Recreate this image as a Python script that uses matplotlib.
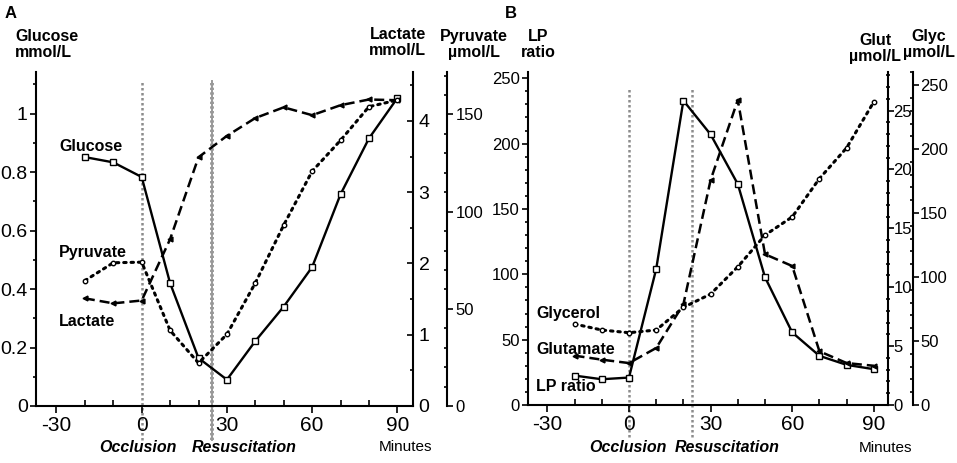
import matplotlib
matplotlib.use("Agg")
import matplotlib.pyplot as plt
from matplotlib.ticker import MultipleLocator, FixedLocator

plt.rcParams['font.family'] = ['Liberation Sans', 'DejaVu Sans']
plt.rcParams['axes.unicode_minus'] = False

# DATA
minutes = [-20, -10, 0, 10, 20, 30, 40, 50, 60, 70, 80, 90]

# panel A
glucose = [0.851, 0.833, 0.783, 0.42, 0.164, 0.09, 0.222, 0.34, 0.475, 0.724, 0.915, 1.053]
lactate = [1.51, 1.44, 1.48, 2.34, 3.49, 3.79, 4.04, 4.19, 4.08, 4.22, 4.30, 4.29]
pyruvate = [64.5, 73.7, 74.0, 38.9, 22.1, 36.9, 63.3, 93.1, 120.8, 136.7, 154, 157.4]

# panel B
lp_ratio = [22.5, 19.7, 21, 104, 232.9, 207, 169, 97.7, 55.5, 37.6, 30.7, 27.4]
glutamate = [4.19, 3.85, 3.56, 4.84, 8.55, 19.1, 25.9, 12.8, 11.8, 4.56, 3.56, 3.33]
glycerol = [63.3, 58.6, 56.5, 58.6, 76.3, 86.7, 108, 132.8, 147, 177, 201, 237]

occlusion_time = 0
resusc_time_a = 24.6
resusc_time_b = 23.3

x_ticks = [-30, 0, 30, 60, 90]

W, H = 957, 463
LW = 1.5
DASH = (0, (4, 2))
DOT = (0, (0.8, 1.6))


def px(x, y):
    return x / W, 1 - y / H


def style_main(ax, xlim, ylim, ymajor, yminor, fmt=None, lsize=14):
    ax.set_xlim(*xlim)
    ax.set_ylim(*ylim)
    for s in ["top", "right"]:
        ax.spines[s].set_visible(False)
    for s in ["left", "bottom"]:
        ax.spines[s].set_linewidth(1.5)
    ax.xaxis.set_major_locator(FixedLocator(x_ticks))
    ax.xaxis.set_minor_locator(MultipleLocator(10))
    ax.yaxis.set_major_locator(MultipleLocator(ymajor))
    ax.yaxis.set_minor_locator(MultipleLocator(yminor))
    ax.tick_params(axis="x", which="major", direction="out", length=5, width=1.2, labelsize=15, pad=2)
    ax.tick_params(axis="x", which="minor", direction="in", length=4, width=1.2)
    ax.tick_params(axis="y", which="major", direction="out", length=4, width=1.2, labelsize=lsize, pad=2)
    ax.tick_params(axis="y", which="minor", direction="out", length=2.5, width=1.2)
    if fmt is not None:
        ax.yaxis.set_major_formatter(fmt)


def style_twin(ax, ylim, ymajor, yminor, offset, major_dir, minor_dir, lsize, pad):
    ax.set_ylim(*ylim)
    for s in ["top", "left", "bottom"]:
        ax.spines[s].set_visible(False)
    ax.spines["right"].set_linewidth(1.5)
    if offset:
        # offset given in pixels, spine offset is in points
        ax.spines["right"].set_position(("outward", offset * 72 / 100))
    ax.yaxis.set_major_locator(MultipleLocator(ymajor))
    ax.yaxis.set_minor_locator(MultipleLocator(yminor))
    ax.tick_params(axis="y", which="major", direction=major_dir, length=4, width=1.2, labelsize=lsize, pad=pad)
    ax.tick_params(axis="y", which="minor", direction=minor_dir, length=2.5, width=1.2)


def vline(ax, x, ymin, ymax, wavy=False):
    if wavy:
        ax.axvline(x, ymin, ymax, color="#999999", lw=1.4, clip_on=False, zorder=1)
        ax.axvline(x, ymin, ymax, color="#999999", lw=2.8, ls=(0, (0.6, 0.6)), clip_on=False, zorder=1)
    else:
        ax.axvline(x, ymin, ymax, color="#8c8c8c", lw=1.8, ls=(0, (1, 1)), clip_on=False, zorder=1)


def fmt_a(v, pos):
    return "%g" % round(v, 2)


def main():
    fig = plt.figure(figsize=(W / 100, H / 100), dpi=100)

    # ---------- panel A ----------
    l, b = px(36, 406)
    axA = fig.add_axes([l, b, (413 - 36) / W, (406 - 71.7) / H])
    axA2 = axA.twinx()
    axA3 = axA.twinx()
    style_main(axA, (-37.2, 95.5), (0, 1.143), 0.2, 0.1, plt.FuncFormatter(fmt_a), lsize=14)
    style_twin(axA2, (0, 4.69), 1, 0.5, 0, "in", "in", 14, 4)
    style_twin(axA3, (0, 172), 50, 10, 34, "out", "in", 12, 2)

    vline(axA, occlusion_time, -0.102, 0.972)
    vline(axA, resusc_time_a, -0.102, 0.972, wavy=True)

    axA.plot(minutes, glucose, color="black", lw=LW + 0.2, marker="s", ms=4, mfc="white", mec="black", mew=1, zorder=3)
    axA2.plot(minutes, lactate, color="black", lw=LW + 0.3, ls=DASH, marker="<", ms=3.5, zorder=3)
    axA3.plot(minutes, pyruvate, color="black", lw=LW + 0.7, ls=DOT, dash_capstyle="round", marker="o", ms=3.2, mfc="white", mew=1, zorder=3)

    # ---------- panel B ----------
    l, b = px(528.3, 405)
    axB = fig.add_axes([l, b, (888 - 528.3) / W, (405 - 71.7) / H])
    axB2 = axB.twinx()
    axB3 = axB.twinx()
    style_main(axB, (-37, 95.2), (0, 255), 50, 10, lsize=12)
    style_twin(axB2, (0, 28.3), 5, 1, 0, "out", "inout", 12, 0)
    style_twin(axB3, (0, 260.5), 50, 10, 25, "out", "in", 12, 1)

    vline(axB, occlusion_time, -0.096, 0.948)
    vline(axB, resusc_time_b, -0.096, 0.948)

    axB.plot(minutes, lp_ratio, color="black", lw=LW + 0.2, marker="s", ms=4, mfc="white", mec="black", mew=1, zorder=3)
    axB2.plot(minutes, glutamate, color="black", lw=LW + 0.3, ls=DASH, marker="<", ms=3.5, zorder=3)
    axB3.plot(minutes, glycerol, color="black", lw=LW + 0.7, ls=DOT, dash_capstyle="round", marker="o", ms=3.2, mfc="white", mew=1, zorder=3)

    # ---------- text ----------
    bold = dict(fontsize=11.5, fontweight="bold", va="top")
    fig.text(*px(5, 6), "A", fontsize=12, fontweight="bold", va="top")
    fig.text(*px(505, 6), "B", fontsize=12, fontweight="bold", va="top")

    fig.text(*px(15, 29), "Glucose\nmmol/L", ha="left", linespacing=1.05, **bold)
    fig.text(*px(426, 27), "Lactate\nmmol/L", ha="right", multialignment="right", linespacing=1.05, **bold)
    fig.text(*px(474, 29), "Pyruvate\nµmol/L", ha="center", linespacing=1.05, **bold)
    fig.text(*px(538.5, 29), "LP\nratio", ha="center", linespacing=1.05, **bold)
    fig.text(*px(875, 33), "Glut\nµmol/L", ha="center", linespacing=1.05, **bold)
    fig.text(*px(929, 29), "Glyc\nµmol/L", ha="center", linespacing=1.05, **bold)

    lab = dict(fontsize=11.5, fontweight="bold", va="center", ha="left")
    fig.text(*px(59, 146.7), "Glucose", **lab)
    fig.text(*px(59, 253), "Pyruvate", **lab)
    fig.text(*px(59, 321.7), "Lactate", **lab)
    fig.text(*px(536, 313.3), "Glycerol", **lab)
    fig.text(*px(536, 350), "Glutamate", **lab)
    fig.text(*px(536, 386.7), "LP ratio", **lab)

    bot = dict(fontsize=11.5, fontweight="bold", style="italic", va="center", ha="center")
    fig.text(*px(137.5, 447), "Occlusion", **bot)
    fig.text(*px(244, 447), "Resuscitation", **bot)
    fig.text(*px(405, 447), "Minutes", fontsize=11, va="center", ha="center")
    fig.text(*px(627.8, 448), "Occlusion", **bot)
    fig.text(*px(727, 448), "Resuscitation", **bot)
    fig.text(*px(885, 448), "Minutes", fontsize=11, va="center", ha="center")

    fig.savefig("out.png", dpi=100)


if __name__ == "__main__":
    main()
